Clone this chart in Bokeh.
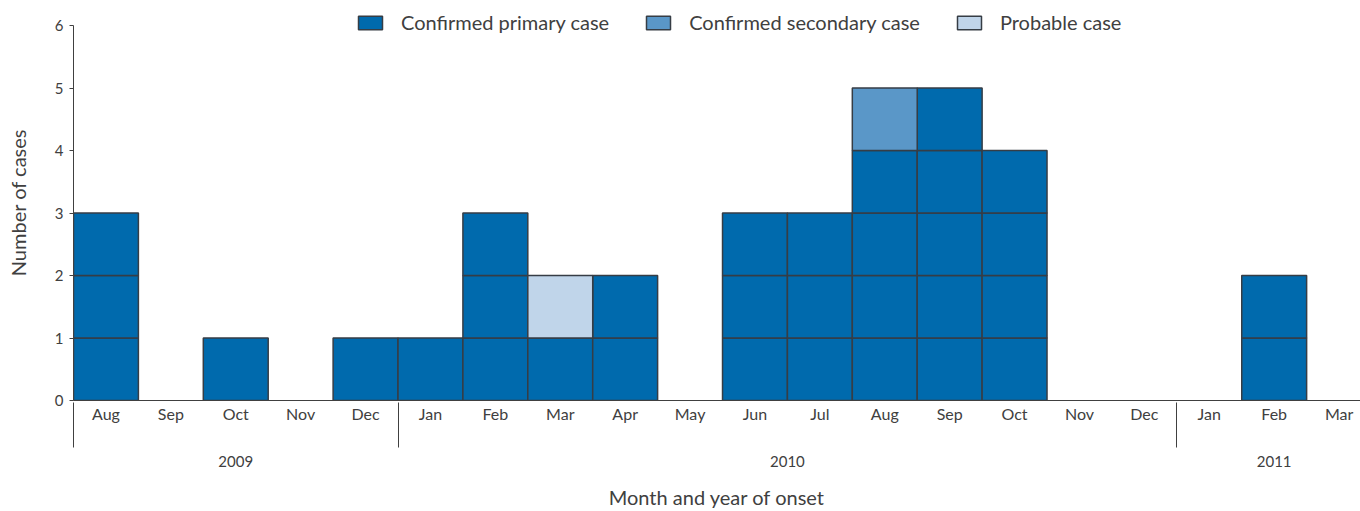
from bokeh.plotting import figure
from bokeh.models import (Range1d, LinearAxis, FixedTicker, Legend, LegendItem)
from bokeh.embed import file_html
from bokeh.resources import INLINE

months = ["Aug", "Sep", "Oct", "Nov", "Dec", "Jan", "Feb", "Mar", "Apr", "May",
          "Jun", "Jul", "Aug", "Sep", "Oct", "Nov", "Dec", "Jan", "Feb", "Mar"]
years = ["2009", "2010", "2011"]
months_per_year = [5, 12, 3]
primary = [3, 0, 1, 0, 1, 1, 3, 1, 2, 0, 3, 3, 4, 5, 4, 0, 0, 0, 2, 0]
secondary = [0, 0, 0, 0, 0, 0, 0, 0, 0, 0, 0, 0, 1, 0, 0, 0, 0, 0, 0, 0]
probable = [0, 0, 0, 0, 0, 0, 0, 1, 0, 0, 0, 0, 0, 0, 0, 0, 0, 0, 0, 0]

series = [("Confirmed primary case", primary, "#006aad"),
          ("Confirmed secondary case", secondary, "#5a97c8"),
          ("Probable case", probable, "#c0d5ea")]

FONT = "Lato"
TXT = "#404040"

p = figure(width=1360, height=511, output_backend="svg", toolbar_location=None,
           x_axis_type=None, x_range=Range1d(0, 19.83), y_range=Range1d(0, 6.336),
           min_border_left=73, min_border_top=4, min_border_right=0,
           min_border_bottom=111)
p.outline_line_color = None
p.grid.visible = False
p.background_fill_color = "white"

# stacked unit boxes
base = [0] * len(months)
legend_items = []
for name, vals, color in series:
    L, R, B, T = [], [], [], []
    for i, v in enumerate(vals):
        for k in range(v):
            L.append(i)
            R.append(i + 1)
            B.append(base[i] + k)
            T.append(base[i] + k + 1)
        base[i] += v
    r = p.quad(left=L, right=R, bottom=B, top=T, fill_color=color,
               line_color="#363d45", line_width=1.5)
    legend_items.append(LegendItem(label=name, renderers=[r]))

# y axis
ya = p.yaxis[0]
ya.ticker = FixedTicker(ticks=list(range(0, 7)), minor_ticks=[])
ya.bounds = (0, 6)
ya.major_tick_out = 4
ya.major_tick_in = 0
ya.axis_line_color = TXT
ya.major_tick_line_color = TXT
ya.major_label_text_font = FONT
ya.major_label_text_font_size = "15px"
ya.major_label_text_color = TXT
ya.major_label_standoff = 6
ya.axis_label = "Number of cases"
ya.axis_label_text_font = FONT
ya.axis_label_text_font_size = "20px"
ya.axis_label_text_font_style = "normal"
ya.axis_label_text_color = TXT
ya.axis_label_standoff = 22

# month axis
centers = [i + 0.5 for i in range(len(months))]
bounds = [0]
for n in months_per_year:
    bounds.append(bounds[-1] + n)
ax1 = LinearAxis(ticker=FixedTicker(ticks=centers, minor_ticks=[]))
ax1.major_label_overrides = {c: m for c, m in zip(centers, months)}
ax1.major_tick_out = 0
ax1.major_tick_in = 0
ax1.axis_line_color = TXT
ax1.major_label_text_font = FONT
ax1.major_label_text_font_size = "16px"
ax1.major_label_text_color = TXT
ax1.major_label_standoff = 3
p.add_layout(ax1, "below")

# year axis (its minor ticks draw the year separators)
ycent = [(bounds[i] + bounds[i + 1]) / 2 for i in range(len(years))]
ax2 = LinearAxis(ticker=FixedTicker(ticks=ycent, minor_ticks=bounds[:-1]))
ax2.major_label_overrides = {c: y for c, y in zip(ycent, years)}
ax2.major_tick_out = 0
ax2.major_tick_in = 0
ax2.minor_tick_in = 23
ax2.minor_tick_out = 22
ax2.minor_tick_line_color = TXT
ax2.axis_line_color = None
ax2.major_tick_line_color = None
ax2.major_label_text_font = FONT
ax2.major_label_text_font_size = "15px"
ax2.major_label_text_color = TXT
ax2.major_label_standoff = 8
ax2.axis_label = "Month and year of onset"
ax2.axis_label_text_font = FONT
ax2.axis_label_text_font_size = "20px"
ax2.axis_label_text_font_style = "normal"
ax2.axis_label_text_color = TXT
ax2.axis_label_standoff = 15
p.add_layout(ax2, "below")

legend = Legend(items=legend_items, orientation="horizontal", location=(282, 366),
                glyph_width=30, glyph_height=17, label_standoff=16, spacing=34,
                padding=0, margin=0, border_line_color=None,
                background_fill_alpha=0, label_text_font=FONT,
                label_text_font_size="20px", label_text_color=TXT)
p.add_layout(legend, "center")

open("out.html", "w").write(file_html(p, INLINE))
